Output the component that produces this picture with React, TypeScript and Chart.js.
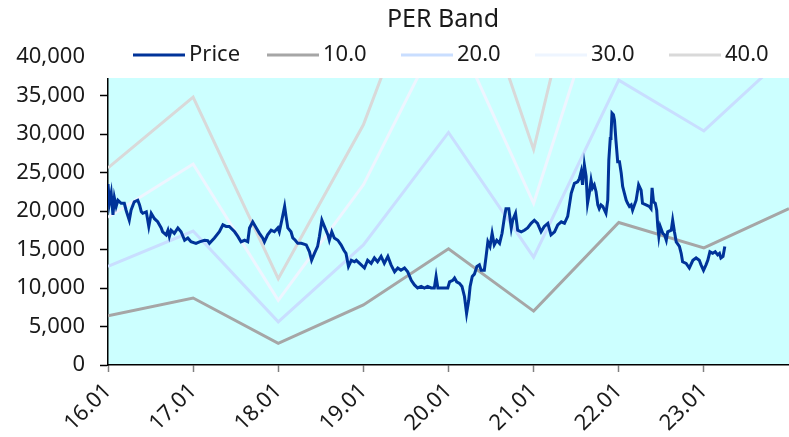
import React, { useEffect, useRef } from "react";
import { Chart, registerables } from "chart.js";

Chart.register(...registerables);

// ---- data ----
const chartTitle = "PER Band";
const xTickMonths = [0, 12, 24, 36, 48, 60, 72, 84];
const xTickLabels = ["16.01", "17.01", "18.01", "19.01", "20.01", "21.01", "22.01", "23.01"];
const yTickValues = [0, 5000, 10000, 15000, 20000, 25000, 30000, 35000, 40000];

const bandMonths = [0, 12, 24, 36, 48, 60, 72, 84, 96];
const epsValues = [640, 870, 280, 780, 1510, 700, 1850, 1520, 2030];
const perMultiples = [10, 20, 30, 40];
const bandLabels = ["10.0", "20.0", "30.0", "40.0"];

const priceMonths = [
  0.0, 0.2, 0.45, 0.7, 0.9, 1.15, 1.4, 1.85, 2.3, 2.55, 3.0, 3.25, 3.7, 4.2, 4.45, 4.7, 4.9, 5.4, 5.75, 6.1,
  6.55, 7.0, 7.5, 7.7, 8.2, 8.45, 8.65, 8.9, 9.35, 9.85, 10.3, 10.8, 11.25, 11.7, 12.4, 12.9, 13.6, 14.05, 14.3, 15.0,
  15.7, 16.2, 16.65, 17.1, 17.85, 18.3, 18.75, 19.25, 19.7, 19.95, 20.4, 20.9, 21.35, 21.8, 22.05, 22.5, 23.0, 23.45, 23.95, 24.15,
  24.5, 24.9, 25.1, 25.35, 25.8, 26.05, 26.4, 26.75, 27.25, 27.95, 28.4, 28.7, 29.1, 29.55, 29.8, 30.15, 30.5, 31.0, 31.2, 31.55,
  31.9, 32.4, 32.85, 33.25, 33.55, 33.9, 34.3, 34.75, 35.0, 35.7, 36.15, 36.6, 37.1, 37.55, 38.0, 38.5, 38.95, 39.45, 39.9, 40.4,
  40.85, 41.3, 41.8, 42.25, 42.75, 43.2, 43.65, 44.15, 44.6, 45.05, 45.55, 46.0, 46.25, 46.5, 46.95, 47.45, 47.9, 48.15, 48.6, 48.85,
  49.15, 49.55, 49.9, 50.25, 50.55, 50.85, 51.05, 51.35, 51.65, 52.0, 52.35, 52.6, 53.05, 53.3, 53.55, 53.85, 54.15, 54.45, 54.8, 55.2,
  55.55, 55.9, 56.1, 56.5, 56.85, 57.05, 57.45, 57.75, 58.25, 58.7, 59.15, 59.65, 60.1, 60.55, 61.05, 61.5, 62.0, 62.45, 62.95, 63.4,
  63.9, 64.35, 64.8, 65.3, 65.75, 66.2, 66.45, 66.7, 66.9, 67.15, 67.4, 67.6, 67.85, 68.1, 68.3, 68.55, 68.8, 69.05, 69.25, 69.5,
  69.75, 70.2, 70.45, 70.6, 70.8, 70.9, 71.05, 71.25, 71.4, 71.6, 71.85, 72.1, 72.35, 72.55, 72.8, 73.05, 73.25, 73.5, 73.75, 73.95,
  74.45, 74.8, 75.15, 75.35, 75.85, 76.3, 76.55, 76.7, 76.9, 77.15, 77.35, 77.5, 77.65, 77.85, 78.2, 78.45, 78.7, 78.9, 79.4, 79.6,
  79.85, 80.1, 80.55, 80.8, 81.0, 81.5, 81.95, 82.45, 82.9, 83.35, 83.6, 83.95, 84.3, 84.55, 84.85, 85.25, 85.6, 85.95, 86.2, 86.4,
  86.7, 86.95,
];
const priceValues = [
  23500, 21000, 22300, 19500, 21700, 20600, 21400, 21000, 21000, 20100, 18800, 20100, 21200, 21400, 20800, 19900, 19700, 19900, 18000, 19700,
  19000, 18600, 17800, 17300, 16900, 17500, 16700, 17500, 17100, 17800, 17300, 16200, 16500, 16000, 15800, 16000, 16200, 16150, 15800, 16500,
  17300, 18200, 18000, 18000, 17300, 16700, 16000, 16200, 16000, 17800, 18600, 17800, 17100, 16500, 16000, 16900, 17500, 17300, 17800, 17300,
  18800, 20600, 19300, 17800, 17300, 16500, 16200, 15800, 15800, 15600, 14700, 13600, 14500, 15400, 16700, 18800, 18000, 16900, 16200, 17300,
  16500, 16200, 15600, 14900, 14500, 12800, 13600, 13400, 13600, 13000, 12600, 13600, 13200, 13900, 13400, 14100, 13200, 14100, 13000, 12100,
  12600, 12300, 12600, 12100, 11000, 10400, 10000, 10200, 10000, 10200, 10000, 10000, 11500, 10000, 10000, 10000, 10000, 10800, 11000, 11300,
  10800, 10600, 10200, 8900, 6700, 8400, 10200, 11500, 11800, 12800, 13000, 12300, 12300, 14100, 16000, 15400, 17100, 15600, 16200, 15800,
  17100, 19300, 20300, 20300, 17800, 18800, 19700, 17500, 17300, 17500, 17800, 18400, 18800, 18400, 17300, 18000, 18400, 16900, 17300, 18200,
  18600, 18400, 19300, 22300, 23600, 23800, 24200, 25100, 23400, 26000, 24500, 21000, 22300, 24000, 23000, 23400, 22500, 20800, 20300, 20800,
  20600, 19700, 21400, 26600, 29400, 29700, 32700, 32500, 31800, 29200, 26400, 26400, 24900, 23200, 22300, 21400, 21000, 20600, 20800, 20100,
  21400, 23400, 22700, 21000, 20800, 20600, 20300, 23000, 21200, 21000, 20100, 18000, 16700, 18000, 17100, 16900, 16200, 17300, 17500, 18800,
  17300, 16000, 15400, 14500, 13400, 13200, 12600, 13600, 13900, 13600, 13000, 12300, 13000, 13600, 14700, 14500, 14700, 14300, 14500, 13900,
  14100, 15400,
];

// ---- styles ----
const FONT = '"Noto Sans", "DejaVu Sans", sans-serif';
const priceColor = "#003399";
const bandColors = ["#a6a6a6", "#c9deff", "#eef5ff", "#d9d9d9"];
const plotBg = "#ccffff";
const CLIP_TOP = 78;
const LEGEND_Y = 55;
const LEGEND_X0 = 133;
const LEGEND_STEP = 134;
const LEGEND_LINE = 52;

const perBandPlugin = {
  id: "perBandDecor",
  beforeDraw(chart: any) {
    const { ctx, chartArea: ca } = chart;
    ctx.save();
    ctx.fillStyle = plotBg;
    ctx.fillRect(ca.left, CLIP_TOP, ca.right - ca.left, ca.bottom - CLIP_TOP);
    ctx.restore();
  },
  beforeDatasetsDraw(chart: any) {
    const { ctx, chartArea: ca } = chart;
    ctx.save();
    ctx.beginPath();
    ctx.rect(ca.left, CLIP_TOP, ca.right - ca.left, ca.bottom - CLIP_TOP);
    ctx.clip();
  },
  afterDatasetsDraw(chart: any) {
    chart.ctx.restore();
  },
  afterDraw(chart: any) {
    const { ctx, width } = chart;
    ctx.save();
    ctx.fillStyle = "#ffffff";
    ctx.fillRect(92, 0, width - 92, CLIP_TOP);
    // title
    ctx.fillStyle = "#1a1a1a";
    ctx.font = `25px ${FONT}`;
    ctx.textAlign = "center";
    ctx.textBaseline = "middle";
    ctx.fillText(chartTitle, 443, 20);
    // legend
    const names = ["Price", ...bandLabels];
    const cols = [priceColor, ...bandColors];
    ctx.font = `22px ${FONT}`;
    ctx.textAlign = "left";
    names.forEach((n, i) => {
      const x = LEGEND_X0 + LEGEND_STEP * i;
      ctx.strokeStyle = cols[i];
      ctx.lineWidth = 3;
      ctx.beginPath();
      ctx.moveTo(x, LEGEND_Y);
      ctx.lineTo(x + LEGEND_LINE, LEGEND_Y);
      ctx.stroke();
      ctx.fillStyle = "#1a1a1a";
      ctx.fillText(n, x + LEGEND_LINE + 4, LEGEND_Y);
    });
    ctx.restore();
  },
};

export default function App() {
  const ref = useRef<HTMLCanvasElement | null>(null);

  useEffect(() => {
    if (!ref.current) return;
    const priceData = priceMonths.map((m, i) => ({ x: m, y: priceValues[i] }));
    const bandSets = perMultiples.map((mult, k) => ({
      label: bandLabels[k],
      data: bandMonths.map((m, i) => ({ x: m, y: epsValues[i] * mult })),
      borderColor: bandColors[k],
      backgroundColor: bandColors[k],
      borderWidth: 3,
      pointRadius: 0,
      tension: 0,
      fill: false,
    }));
    const chart = new Chart(ref.current, {
      type: "line",
      data: {
        datasets: [
          {
            label: "Price",
            data: priceData,
            borderColor: priceColor,
            backgroundColor: priceColor,
            borderWidth: 3,
            pointRadius: 0,
            tension: 0,
            fill: false,
          },
          ...bandSets,
        ],
      },
      options: {
        animation: false,
        responsive: false,
        maintainAspectRatio: false,
        layout: { padding: { top: 57, left: 0, right: 0, bottom: 0 } },
        plugins: {
          legend: { display: false },
          title: { display: false },
          tooltip: { enabled: false },
        },
        scales: {
          x: {
            type: "linear",
            min: 0,
            max: 96,
            afterBuildTicks: (s: any) => {
              s.ticks = xTickMonths.map((v) => ({ value: v }));
            },
            afterFit: (s: any) => {
              s.height = 72;
            },
            ticks: {
              autoSkip: false,
              minRotation: 45,
              maxRotation: 45,
              padding: 6,
              color: "#1a1a1a",
              font: { family: FONT, size: 22 },
              callback: (v: any) => {
                const i = xTickMonths.indexOf(Number(v));
                return i >= 0 ? xTickLabels[i] : "";
              },
            },
            grid: { drawOnChartArea: false, tickLength: 7, tickColor: "#808080", tickWidth: 1.5 },
            border: { display: true, color: "#000000", width: 1.5 },
          },
          y: {
            min: 0,
            max: 40000,
            afterBuildTicks: (s: any) => {
              s.ticks = yTickValues.map((v) => ({ value: v }));
            },
            afterFit: (s: any) => {
              s.width = 108;
            },
            ticks: {
              padding: 15,
              color: "#1a1a1a",
              font: { family: FONT, size: 22 },
              callback: (v: any) => Number(v).toLocaleString("en-US"),
            },
            grid: { drawOnChartArea: false, tickLength: 8, tickColor: "#000000", tickWidth: 1.5 },
            border: { display: true, color: "#000000", width: 1.5 },
          },
        },
      },
      plugins: [perBandPlugin],
    });
    return () => chart.destroy();
  }, []);

  return (
    <div style={{ position: "fixed", left: 0, top: 0, width: 789, height: 437, background: "#ffffff" }}>
      <canvas ref={ref} width={789} height={437} style={{ width: 789, height: 437, display: "block" }} />
    </div>
  );
}
